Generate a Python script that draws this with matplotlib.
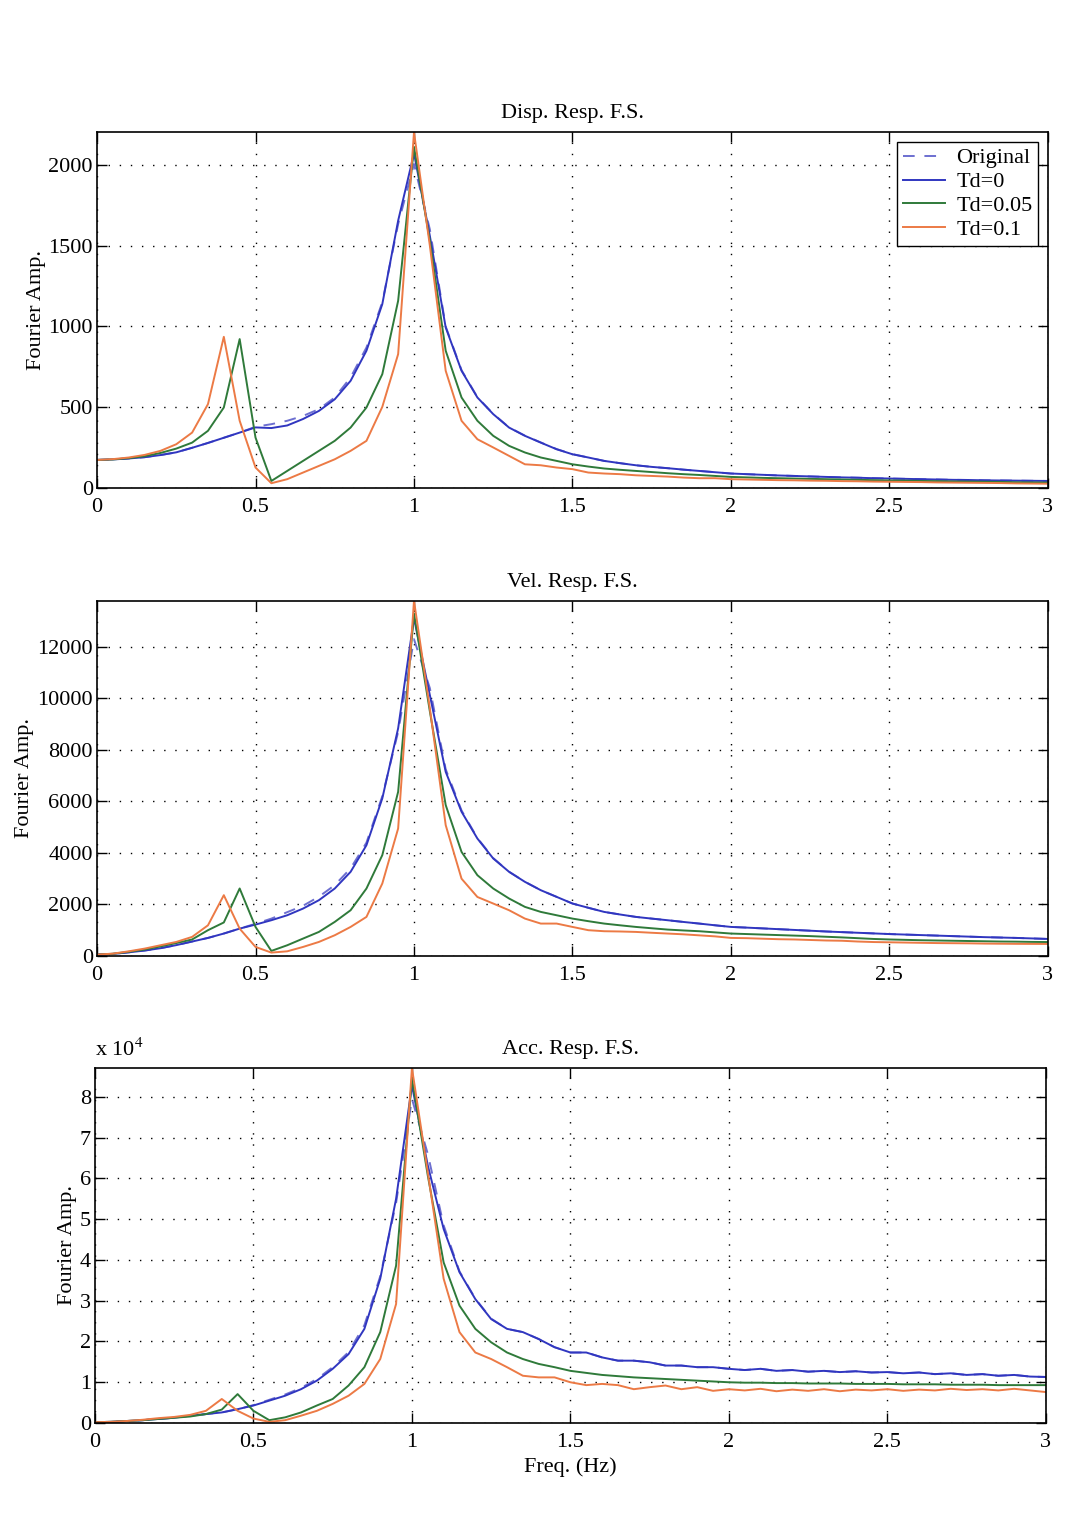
#!/usr/bin/env python3
"""Fourier spectra of disp / vel / acc response for different time delays."""

import numpy as np
import matplotlib
matplotlib.use("Agg")
import matplotlib.pyplot as plt

plt.rcParams["font.family"] = ["Liberation Serif", "DejaVu Serif"]
plt.rcParams["mathtext.fontset"] = "stix"

# frequency axis (Hz), 0.05 Hz step
freq = np.linspace(0, 3, 61)

# ---- Disp. Resp. F.S. ----
disp_orig = [175, 178, 184, 192, 205, 222, 250, 280, 312, 344,
             380, 396, 417, 447, 489, 561, 685, 870, 1150, 1633,
             2004, 1600, 1000, 730, 563, 460, 376, 325, 283, 242,
             211, 190, 169, 155, 142, 132, 124, 115, 107, 99,
             91, 87, 83, 79, 76, 73, 70, 67, 65, 62,
             60, 58, 56, 54, 52, 51, 49, 48, 47, 46, 45]
disp_td0 = [175, 178, 184, 192, 205, 222, 250, 280, 312, 344,
            376, 372, 388, 428, 478, 550, 664, 850, 1138, 1654,
            2070, 1560, 994, 726, 561, 458, 375, 324, 282, 241,
            210, 190, 169, 155, 142, 132, 124, 115, 107, 99,
            91, 87, 83, 79, 76, 73, 70, 67, 65, 62,
            60, 58, 56, 54, 52, 51, 49, 48, 47, 46, 45]
disp_td005 = [175, 178, 186, 198, 218, 245, 282, 355, 499, 922,
              313, 45, 107, 169, 231, 293, 375, 499, 705, 1159,
              2110, 1530, 850, 561, 417, 324, 262, 221, 190, 169,
              148, 134, 122, 114, 107, 100, 93, 87, 82, 76,
              70, 67, 64, 62, 60, 58, 56, 54, 52, 50,
              48, 47, 45, 44, 42, 41, 40, 39, 37, 36, 35]
disp_td01 = [175, 180, 190, 206, 231, 272, 344, 520, 936, 417,
             128, 31, 56, 97, 138, 179, 231, 293, 503, 829,
             2200, 1500, 726, 417, 303, 252, 200, 148, 142, 128,
             118, 97, 91, 87, 80, 76, 72, 66, 62, 62,
             56, 54, 52, 50, 49, 47, 46, 44, 43, 41,
             40, 39, 38, 36, 35, 34, 33, 32, 30, 29, 28]

# ---- Vel. Resp. F.S. ----
vel_orig = [52, 80, 140, 210, 300, 420, 560, 700, 870, 1062,
            1250, 1450, 1700, 1950, 2300, 2750, 3400, 4400, 6200, 8700,
            12300, 10400, 7250, 5650, 4580, 3800, 3270, 2880, 2553, 2294,
            2035, 1870, 1710, 1610, 1516, 1450, 1387, 1320, 1257, 1190,
            1127, 1100, 1070, 1040, 1010, 980, 950, 925, 900, 875,
            850, 830, 810, 790, 770, 750, 730, 715, 700, 680, 660]
vel_td0 = [52, 80, 140, 210, 300, 420, 560, 700, 870, 1062,
           1218, 1387, 1580, 1840, 2165, 2618, 3266, 4300, 6117, 8840,
           13115, 10130, 7150, 5600, 4560, 3785, 3266, 2877, 2553, 2294,
           2035, 1870, 1710, 1610, 1516, 1450, 1387, 1320, 1257, 1190,
           1127, 1100, 1070, 1040, 1010, 980, 950, 925, 900, 875,
           850, 830, 810, 790, 770, 750, 730, 715, 700, 680, 660]
vel_td005 = [52, 85, 160, 250, 370, 500, 640, 1000, 1300, 2620,
             1127, 195, 415, 675, 933, 1322, 1775, 2618, 3914, 6376,
             13300, 9500, 5860, 4040, 3136, 2618, 2230, 1905, 1710, 1580,
             1450, 1350, 1257, 1190, 1127, 1075, 1024, 990, 960, 915,
             870, 850, 830, 810, 790, 770, 745, 720, 690, 660,
             640, 625, 610, 600, 590, 580, 570, 560, 555, 545, 540]
vel_td01 = [52, 90, 180, 285, 415, 544, 740, 1190, 2360, 1060,
            350, 130, 180, 350, 544, 804, 1127, 1516, 2812, 4950,
            13790, 9620, 5080, 3000, 2290, 2035, 1775, 1450, 1257, 1257,
            1127, 1000, 960, 950, 933, 900, 870, 840, 800, 760,
            700, 690, 670, 650, 640, 620, 600, 590, 560, 540,
            530, 520, 510, 500, 495, 490, 480, 475, 470, 468, 466]

# ---- Acc. Resp. F.S. (x 10^4) ----
acc_orig = [0.02, 0.03, 0.05, 0.07, 0.10, 0.13, 0.18, 0.22, 0.26, 0.34,
            0.44, 0.57, 0.70, 0.86, 1.08, 1.37, 1.74, 2.40, 3.60, 5.40,
            7.95, 6.60, 4.85, 3.72, 3.05, 2.56, 2.31, 2.23, 2.06, 1.86,
            1.73, 1.73, 1.61, 1.53, 1.53, 1.49, 1.41, 1.41, 1.37, 1.37,
            1.33, 1.30, 1.33, 1.28, 1.30, 1.26, 1.28, 1.25, 1.27, 1.24,
            1.25, 1.22, 1.24, 1.20, 1.22, 1.18, 1.20, 1.16, 1.18, 1.14, 1.13]
acc_td0 = [0.02, 0.03, 0.05, 0.07, 0.10, 0.13, 0.18, 0.22, 0.26, 0.34,
           0.43, 0.55, 0.67, 0.83, 1.04, 1.33, 1.69, 2.31, 3.54, 5.50,
           8.28, 6.32, 4.76, 3.70, 3.04, 2.55, 2.31, 2.23, 2.06, 1.86,
           1.73, 1.73, 1.61, 1.53, 1.53, 1.49, 1.41, 1.41, 1.37, 1.37,
           1.33, 1.30, 1.33, 1.28, 1.30, 1.26, 1.28, 1.25, 1.27, 1.24,
           1.25, 1.22, 1.24, 1.20, 1.22, 1.18, 1.20, 1.16, 1.18, 1.14, 1.13]
acc_td005 = [0.02, 0.03, 0.05, 0.07, 0.10, 0.13, 0.16, 0.22, 0.33, 0.71,
             0.30, 0.07, 0.14, 0.26, 0.43, 0.59, 0.92, 1.37, 2.23, 3.86,
             8.45, 6.07, 3.94, 2.88, 2.31, 1.98, 1.73, 1.57, 1.45, 1.37,
             1.28, 1.23, 1.18, 1.15, 1.12, 1.10, 1.08, 1.06, 1.04, 1.02,
             1.00, 0.99, 0.99, 0.98, 0.98, 0.97, 0.97, 0.97, 0.96, 0.96,
             0.96, 0.95, 0.95, 0.95, 0.94, 0.94, 0.94, 0.93, 0.93, 0.93, 0.93]
acc_td01 = [0.02, 0.03, 0.05, 0.08, 0.12, 0.15, 0.20, 0.30, 0.59, 0.30,
            0.11, 0.03, 0.07, 0.18, 0.30, 0.47, 0.67, 0.96, 1.57, 2.92,
            8.71, 6.15, 3.54, 2.23, 1.73, 1.57, 1.37, 1.16, 1.12, 1.12,
            1.00, 0.93, 0.96, 0.93, 0.83, 0.88, 0.92, 0.83, 0.88, 0.79,
            0.83, 0.80, 0.84, 0.78, 0.82, 0.79, 0.83, 0.78, 0.82, 0.80,
            0.83, 0.79, 0.82, 0.80, 0.84, 0.81, 0.83, 0.80, 0.84, 0.80, 0.76]

labels = ["Original", "Td=0", "Td=0.05", "Td=0.1"]
colors = ["#6d6fd0", "#3036c0", "#2f7a3a", "#ec7a45"]
styles = ["--", "-", "-", "-"]

panels = [
    ("Disp. Resp. F.S.", [disp_orig, disp_td0, disp_td005, disp_td01],
     2200, [0, 500, 1000, 1500, 2000]),
    ("Vel. Resp. F.S.", [vel_orig, vel_td0, vel_td005, vel_td01],
     13790, [0, 2000, 4000, 6000, 8000, 10000, 12000]),
    ("Acc. Resp. F.S.", [acc_orig, acc_td0, acc_td005, acc_td01],
     8.71, [0, 1, 2, 3, 4, 5, 6, 7, 8]),
]

FS = 16

fig = plt.figure(figsize=(10.83, 15.21), dpi=100)
positions = [
    [0.0896, 0.679, 0.878, 0.234],
    [0.0896, 0.3715, 0.878, 0.2335],
    [0.0877, 0.0644, 0.878, 0.2335],
]

for k, (title, series, ytop, yticks) in enumerate(panels):
    ax = fig.add_axes(positions[k])
    for vals, lab, col, ls in zip(series, labels, colors, styles):
        ax.plot(freq, vals, ls, color=col, lw=1.4, label=lab,
                dashes=(6, 5) if ls == "--" else (None, None))
    ax.set_xlim(0, 3)
    ax.set_ylim(0, ytop)
    ax.set_xticks([0, 0.5, 1, 1.5, 2, 2.5, 3])
    ax.set_xticklabels(["0", "0.5", "1", "1.5", "2", "2.5", "3"])
    ax.set_yticks(yticks)
    ax.tick_params(direction="in", length=7, width=1.0, labelsize=FS,
                   top=True, right=True)
    ax.tick_params(axis="y", pad=3)
    ax.tick_params(axis="x", pad=7)
    ax.grid(True, linestyle=(0, (1, 7)), color="black", linewidth=1.0)
    for sp in ax.spines.values():
        sp.set_linewidth(1.2)
    ax.set_title(title, fontsize=FS, pad=10)
    ax.set_ylabel("Fourier Amp.", fontsize=FS, labelpad=2)

    if k == 0:
        leg = ax.legend(loc="upper right", fontsize=FS, fancybox=False,
                        edgecolor="black", framealpha=1, handlelength=1.9,
                        handletextpad=0.5, labelspacing=0.15,
                        borderaxespad=0.45, borderpad=0.25)
        leg.get_frame().set_linewidth(1.0)
    if k == 2:
        ax.set_xlabel("Freq. (Hz)", fontsize=FS, labelpad=4)
        ax.text(0.0, 1.02, r"x 10$^4$", transform=ax.transAxes,
                fontsize=FS, ha="left", va="bottom")

fig.savefig("out.png", dpi=100)
